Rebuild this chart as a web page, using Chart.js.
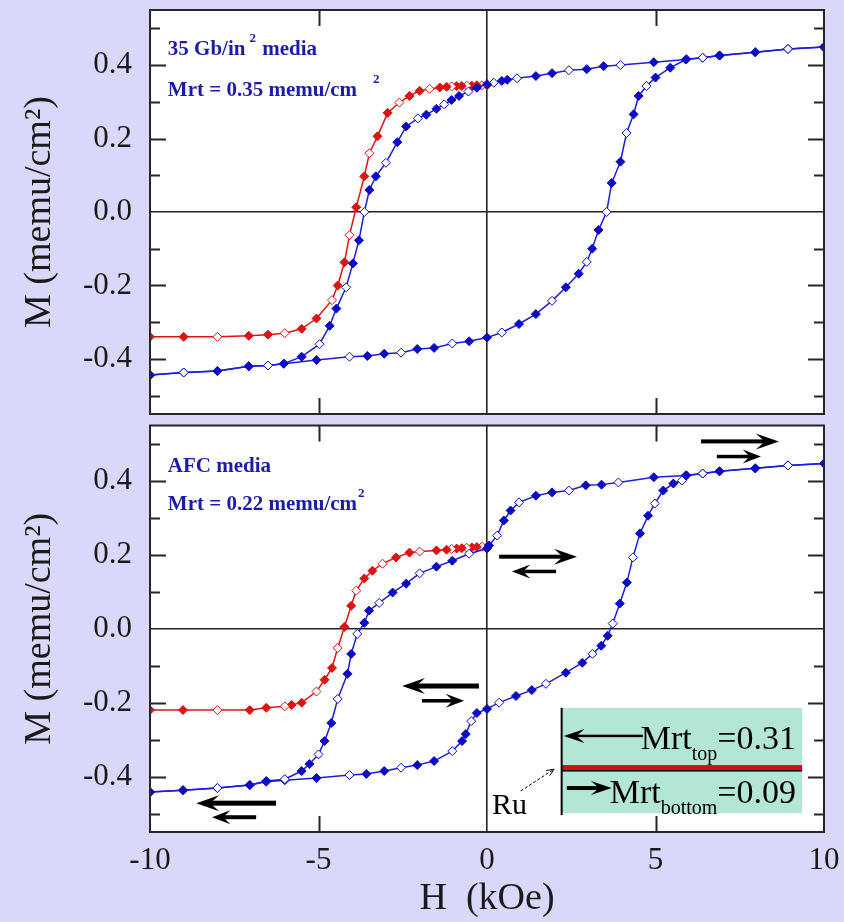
<!DOCTYPE html>
<html>
<head>
<meta charset="utf-8">
<script src="https://cdn.jsdelivr.net/npm/chart.js@4.4.1/dist/chart.umd.min.js"></script>
<style>
  html, body { margin: 0; padding: 0; background: #DAD8FA; }
  #wrap { position: relative; width: 844px; height: 922px; background: #DAD8FA; overflow: hidden; }
  .panel { position: absolute; left: 0; width: 844px; }
</style>
</head>
<body>
<div id="wrap">
  <div class="panel" style="top:0;height:420px"><canvas id="topChart"></canvas></div>
  <div class="panel" style="top:420px;height:502px"><canvas id="bottomChart"></canvas></div>
</div>
<script>
// ---- Axis ticks ----
const xTicks = [-10, -5, 0, 5, 10];
const yLabelTicks = [-0.4, -0.2, 0.0, 0.2, 0.4];
const yMinorTicks = [-0.5, -0.3, -0.1, 0.1, 0.3, 0.5];

// ---- 35 Gb/in2 media: major loop, field decreasing (H in kOe, M in memu/cm2) ----
const convDownH = [10.0, 8.93, 7.96, 6.9, 6.4, 5.9, 4.95, 3.96, 3.46, 2.96, 2.43, 1.93, 1.45, 0.89, 0.6, 0.44, 0.2, 0.0,
  -0.3, -0.55, -0.83, -1.05, -1.27, -1.5, -1.8, -2.05, -2.4, -2.66, -3.0, -3.3, -3.49, -3.64, -3.8, -3.98, -4.18,
  -4.47, -4.67, -4.97, -5.5, -6.03, -6.5, -7.07, -8.0, -9.0, -10.0];
const convDownM = [0.449, 0.444, 0.435, 0.426, 0.420, 0.415, 0.408, 0.400, 0.397, 0.389, 0.386, 0.378, 0.370, 0.364, 0.360, 0.357, 0.352, 0.348,
  0.338, 0.328, 0.316, 0.305, 0.293, 0.281, 0.265, 0.255, 0.233, 0.190, 0.134, 0.097, 0.060, 0.000, -0.077, -0.140, -0.205,
  -0.263, -0.310, -0.360, -0.394, -0.413, -0.418, -0.420, -0.433, -0.437, -0.444];
// field increasing
const convUpH = [-10.0, -9.0, -8.0, -7.07, -6.5, -6.03, -5.06, -4.08, -3.55, -3.05, -2.55, -2.07, -1.57, -1.03, -0.53, 0.0,
  0.44, 0.95, 1.45, 1.93, 2.34, 2.72, 2.96, 3.12, 3.31, 3.55, 3.7, 3.96, 4.14, 4.35, 4.5, 4.73, 5.0, 5.44, 5.92,
  6.4, 6.9, 7.96, 8.93, 10.0];
const convUpM = [-0.444, -0.437, -0.433, -0.420, -0.418, -0.413, -0.403, -0.394, -0.392, -0.386, -0.383, -0.373, -0.370, -0.358, -0.352, -0.342,
  -0.328, -0.305, -0.278, -0.242, -0.205, -0.168, -0.136, -0.100, -0.049, 0.000, 0.079, 0.137, 0.215, 0.266, 0.316, 0.343, 0.366, 0.393, 0.416,
  0.420, 0.426, 0.435, 0.444, 0.449];
// remanence curve from H = 0
const convRemH = [0.0, -0.15, -0.3, -0.45, -0.6, -0.75, -0.9, -1.05, -1.2, -1.4, -1.7, -2.0, -2.3, -2.6, -2.95, -3.25, -3.49,
  -3.64, -3.88, -4.08, -4.23, -4.43, -4.6, -5.06, -5.5, -6.0, -6.5, -7.07, -8.0, -9.0, -10.0];
const convRemM = [0.345, 0.345, 0.345, 0.344, 0.344, 0.343, 0.343, 0.342, 0.341, 0.339, 0.335, 0.330, 0.316, 0.298, 0.270, 0.206, 0.160,
  0.097, 0.013, -0.063, -0.137, -0.200, -0.240, -0.290, -0.318, -0.330, -0.334, -0.337, -0.340, -0.340, -0.340];

// ---- AFC media: major loop, field decreasing ----
const afcDownH = [10.0, 8.93, 7.96, 6.9, 6.4, 5.9, 4.95, 3.9, 3.4, 2.93, 2.43, 1.93, 1.45, 0.95, 0.7, 0.5, 0.3, 0.06, 0.0,
  -0.53, -1.03, -1.5, -2.0, -2.4, -2.8, -3.2, -3.5, -3.64, -3.85, -4.03, -4.14, -4.43, -4.62, -4.82, -5.0, -5.27,
  -5.5, -6.0, -6.55, -7.04, -8.0, -9.02, -10.0];
const afcDownM = [0.447, 0.442, 0.434, 0.426, 0.420, 0.415, 0.410, 0.396, 0.390, 0.388, 0.374, 0.369, 0.360, 0.342, 0.320, 0.293, 0.252, 0.225, 0.217,
  0.203, 0.184, 0.168, 0.150, 0.122, 0.098, 0.070, 0.049, 0.016, -0.014, -0.068, -0.122, -0.190, -0.255, -0.304, -0.340, -0.366,
  -0.385, -0.407, -0.412, -0.423, -0.431, -0.437, -0.442];
// field increasing
const afcUpH = [-10.0, -9.02, -8.0, -7.04, -6.55, -6.0, -5.06, -4.08, -3.58, -3.05, -2.55, -2.07, -1.57, -1.03, -0.74, -0.63, -0.47, -0.3, 0.0,
  0.36, 0.86, 1.33, 1.75, 2.34, 2.83, 3.13, 3.39, 3.58, 3.73, 3.94, 4.15, 4.33, 4.54, 4.78, 4.98, 5.23, 5.53, 5.79, 5.92,
  6.4, 6.9, 7.96, 8.93, 10.0];
const afcUpM = [-0.442, -0.437, -0.431, -0.423, -0.414, -0.410, -0.404, -0.396, -0.393, -0.385, -0.376, -0.369, -0.358, -0.331, -0.304, -0.285, -0.250, -0.228, -0.217,
  -0.200, -0.182, -0.166, -0.149, -0.119, -0.092, -0.068, -0.046, -0.019, 0.014, 0.068, 0.125, 0.193, 0.258, 0.306, 0.339, 0.374, 0.393, 0.401, 0.415,
  0.420, 0.426, 0.434, 0.442, 0.447];
// remanence curve from H = 0
const afcRemH = [0.0, -0.15, -0.3, -0.45, -0.6, -0.75, -0.9, -1.05, -1.2, -1.5, -2.0, -2.3, -2.7, -3.1, -3.4, -3.64, -3.88,
  -4.03, -4.23, -4.43, -4.6, -4.82, -5.06, -5.5, -5.8, -6.0, -6.55, -7.04, -8.0, -9.02, -10.0];
const afcRemM = [0.222, 0.222, 0.221, 0.220, 0.219, 0.218, 0.217, 0.216, 0.214, 0.212, 0.209, 0.206, 0.193, 0.176, 0.157, 0.136, 0.103,
  0.062, 0.005, -0.052, -0.106, -0.138, -0.170, -0.200, -0.206, -0.210, -0.214, -0.220, -0.220, -0.220, -0.220];

const BLUE = '#0c0cc4';
const BLUE_LINE = '#1d1de0';
const RED = '#dc1414';
const TEXT_BLUE = '#1c1ca8';
const SERIF = "'Liberation Serif', 'Times New Roman', serif";

const pts = (hs, ms) => hs.map((h, i) => ({ x: h, y: ms[i] }));

function loopDataset(hs, ms, color, lineColor) {
  return {
    data: pts(hs, ms),
    borderColor: lineColor,
    borderWidth: 1.5,
    pointStyle: 'rectRot',
    pointRadius: 4.5,
    pointBorderWidth: 1,
    pointBorderColor: color,
    pointBackgroundColor: ctx => (ctx.dataIndex % 3 === 1 ? '#ffffff' : color),
    tension: 0,
    fill: false
  };
}

// white plot area, frame and inward tick marks
const framePlugin = {
  id: 'frame',
  beforeDraw(chart) {
    const { ctx, chartArea: a } = chart;
    ctx.save();
    ctx.fillStyle = '#ffffff';
    ctx.fillRect(a.left, a.top, a.right - a.left, a.bottom - a.top);
    ctx.restore();
  },
  afterDatasetsDraw(chart) {
    const { ctx, chartArea: a, scales: { x, y } } = chart;
    ctx.save();
    ctx.strokeStyle = '#262626';
    ctx.lineWidth = 2;
    ctx.strokeRect(a.left, a.top, a.right - a.left, a.bottom - a.top);
    ctx.beginPath();
    const tickY = (v, len) => {
      const p = Math.round(y.getPixelForValue(v)) + 0.5;
      ctx.moveTo(a.left, p); ctx.lineTo(a.left + len, p);
      ctx.moveTo(a.right, p); ctx.lineTo(a.right - len, p);
    };
    yLabelTicks.forEach(v => { if (v !== 0) tickY(v, 16); });
    yMinorTicks.forEach(v => tickY(v, 10));
    xTicks.forEach(v => {
      if (v === x.min || v === x.max || v === 0) return;
      const p = Math.round(x.getPixelForValue(v)) + 0.5;
      ctx.moveTo(p, a.top); ctx.lineTo(p, a.top + 16);
      ctx.moveTo(p, a.bottom); ctx.lineTo(p, a.bottom - 16);
    });
    ctx.stroke();
    ctx.restore();
  }
};

// text drawn as a run of pieces: {t, font, dy, gap}
function richText(ctx, x, y, parts, color) {
  ctx.save();
  ctx.fillStyle = color;
  ctx.textBaseline = 'alphabetic';
  ctx.textAlign = 'left';
  let cx = x;
  parts.forEach(p => {
    ctx.font = p.font;
    cx += p.gap || 0;
    ctx.fillText(p.t, cx, y + (p.dy || 0));
    cx += ctx.measureText(p.t).width;
  });
  ctx.restore();
  return cx;
}
function richWidth(ctx, parts) {
  let w = 0;
  ctx.save();
  parts.forEach(p => { ctx.font = p.font; w += (p.gap || 0) + ctx.measureText(p.t).width; });
  ctx.restore();
  return w;
}

// solid arrow with a barbed head, from tail (x1,y1) to tip (x2,y2)
function arrow(ctx, x1, y1, x2, y2, lw, headLen, headHalf) {
  const ang = Math.atan2(y2 - y1, x2 - x1);
  ctx.save();
  ctx.translate(x2, y2);
  ctx.rotate(ang);
  const len = Math.hypot(x2 - x1, y2 - y1);
  ctx.fillStyle = '#000';
  ctx.fillRect(-len, -lw / 2, len - headLen * 0.6, lw);
  ctx.beginPath();
  ctx.moveTo(0, 0);
  ctx.lineTo(-headLen * 1.15, -headHalf);
  ctx.lineTo(-headLen * 0.7, 0);
  ctx.lineTo(-headLen * 1.15, headHalf);
  ctx.closePath();
  ctx.fill();
  ctx.restore();
}

const boldFont = s => `bold ${s}px ${SERIF}`;
const plainFont = s => `${s}px ${SERIF}`;

const topNotes = {
  id: 'topNotes',
  afterDraw(chart) {
    const { ctx, scales: { x, y } } = chart;
    const x0 = x.getPixelForValue(-9.47);
    richText(ctx, x0, y.getPixelForValue(0.427), [
      { t: '35 Gb/in', font: boldFont(21) },
      { t: '2', font: boldFont(13), dy: -13, gap: 4 },
      { t: ' media', font: boldFont(21), gap: 1 }
    ], TEXT_BLUE);
    richText(ctx, x0, y.getPixelForValue(0.315), [
      { t: 'Mrt = 0.35 memu/cm', font: boldFont(21) },
      { t: '2', font: boldFont(13), dy: -13, gap: 16 }
    ], TEXT_BLUE);
  }
};

const bottomNotes = {
  id: 'bottomNotes',
  afterDraw(chart) {
    const { ctx, scales: { x, y } } = chart;
    const px = v => x.getPixelForValue(v);
    const py = v => y.getPixelForValue(v);
    const x0 = px(-9.47);
    richText(ctx, x0, py(0.423), [{ t: 'AFC media', font: boldFont(21) }], TEXT_BLUE);
    richText(ctx, x0, py(0.32), [
      { t: 'Mrt = 0.22 memu/cm', font: boldFont(21) },
      { t: '2', font: boldFont(13), dy: -13, gap: 1 }
    ], TEXT_BLUE);

    // moment orientation arrows
    arrow(ctx, px(6.35), py(0.507), px(8.66), py(0.507), 4, 20, 8);
    arrow(ctx, px(6.82), py(0.466), px(8.13), py(0.466), 3.5, 16, 7);
    arrow(ctx, px(0.36), py(0.195), px(2.67), py(0.195), 4, 20, 8);
    arrow(ctx, px(2.05), py(0.155), px(0.74), py(0.155), 3.5, 16, 7);
    arrow(ctx, px(-0.24), py(-0.155), px(-2.52), py(-0.155), 5, 20, 8);
    arrow(ctx, px(-1.93), py(-0.195), px(-0.68), py(-0.195), 3.5, 16, 7);
    arrow(ctx, px(-6.26), py(-0.472), px(-8.63), py(-0.472), 5, 20, 8);
    arrow(ctx, px(-6.85), py(-0.51), px(-8.16), py(-0.51), 4, 16, 7);

    // layer stack box
    const bl = px(2.23), br = px(9.35), bt = py(-0.214), bb = py(-0.499);
    const redY = py(-0.377);
    ctx.save();
    ctx.fillStyle = '#b4e6d6';
    ctx.fillRect(bl, bt, br - bl, bb - bt);
    ctx.fillStyle = '#d01010';
    ctx.fillRect(bl, redY - 3, br - bl, 5);
    ctx.fillStyle = '#000';
    ctx.fillRect(bl, redY + 2, br - bl, 1.5);
    ctx.fillRect(bl - 1.5, bt, 2, bb - bt + 2);
    ctx.restore();

    const right = px(9.17);
    const topParts = [
      { t: 'Mrt', font: plainFont(34) },
      { t: 'top', font: plainFont(20), dy: 11 },
      { t: '=0.31', font: plainFont(34) }
    ];
    const botParts = [
      { t: 'Mrt', font: plainFont(34) },
      { t: 'bottom', font: plainFont(20), dy: 11 },
      { t: '=0.09', font: plainFont(34) }
    ];
    const tw = richWidth(ctx, topParts);
    richText(ctx, right - tw, py(-0.325), topParts, '#000');
    const bw = richWidth(ctx, botParts);
    richText(ctx, right - bw, py(-0.472), botParts, '#000');
    arrow(ctx, right - tw + 2, py(-0.29), px(2.28), py(-0.29), 2.5, 18, 7);
    arrow(ctx, px(2.37), py(-0.431), right - bw + 2, py(-0.431), 4, 18, 7);

    // spacer layer label
    richText(ctx, px(0.15), py(-0.502), [{ t: 'Ru', font: plainFont(30) }], '#000');
    ctx.save();
    ctx.strokeStyle = '#000';
    ctx.lineWidth = 1;
    ctx.setLineDash([3, 2]);
    const ax1 = px(1.0), ay1 = py(-0.439), ax2 = px(1.99), ay2 = py(-0.38);
    ctx.beginPath(); ctx.moveTo(ax1, ay1); ctx.lineTo(ax2, ay2); ctx.stroke();
    ctx.setLineDash([]);
    const a = Math.atan2(ay2 - ay1, ax2 - ax1);
    ctx.beginPath();
    ctx.moveTo(ax2, ay2);
    ctx.lineTo(ax2 - 8 * Math.cos(a - 0.4), ay2 - 8 * Math.sin(a - 0.4));
    ctx.moveTo(ax2, ay2);
    ctx.lineTo(ax2 - 8 * Math.cos(a + 0.4), ay2 - 8 * Math.sin(a + 0.4));
    ctx.stroke();
    ctx.restore();
  }
};

const zeroGrid = {
  color: c => (c.tick && c.tick.value === 0 ? '#222222' : 'rgba(0,0,0,0)'),
  lineWidth: 1.6,
  drawTicks: false
};

function makeOptions(isBottom) {
  return {
    responsive: true,
    maintainAspectRatio: false,
    animation: false,
    events: [],
    layout: { padding: { left: 0, right: 20, top: isBottom ? 5 : 10, bottom: 0 } },
    plugins: { legend: { display: false }, tooltip: { enabled: false } },
    scales: {
      x: {
        type: 'linear',
        min: -10, max: 10,
        afterBuildTicks: s => { s.ticks = xTicks.map(v => ({ value: v })); },
        afterFit: s => {
          s.height = isBottom ? 90 : 6;
          s.paddingLeft = 0; s.paddingRight = 0; s.paddingTop = 0; s.paddingBottom = 0;
        },
        grid: zeroGrid,
        border: { display: false },
        ticks: {
          display: isBottom,
          color: '#1a1a1a',
          padding: 10,
          maxRotation: 0,
          font: { family: SERIF, size: 31 },
          callback: v => String(v)
        },
        title: {
          display: isBottom,
          text: 'H  (kOe)',
          color: '#1a1a1a',
          font: { family: SERIF, size: 38 },
          padding: { top: 0, bottom: 0 }
        }
      },
      y: {
        type: 'linear',
        min: -0.55, max: 0.55,
        afterBuildTicks: s => { s.ticks = yLabelTicks.map(v => ({ value: v })); },
        afterFit: s => {
          s.width = 150;
          s.paddingLeft = 0; s.paddingRight = 0; s.paddingTop = 0; s.paddingBottom = 0;
        },
        grid: zeroGrid,
        border: { display: false },
        ticks: {
          color: '#1a1a1a',
          padding: 18,
          font: { family: SERIF, size: 31 },
          callback: v => v.toFixed(1)
        },
        title: {
          display: true,
          text: 'M (memu/cm²)',
          color: '#1a1a1a',
          font: { family: SERIF, size: 38 },
          padding: { top: 17, bottom: 0 }
        }
      }
    }
  };
}

new Chart(document.getElementById('topChart'), {
  type: 'line',
  data: {
    datasets: [
      loopDataset(convDownH, convDownM, BLUE, BLUE_LINE),
      loopDataset(convUpH, convUpM, BLUE, BLUE_LINE),
      loopDataset(convRemH, convRemM, RED, RED)
    ]
  },
  options: makeOptions(false),
  plugins: [framePlugin, topNotes]
});

new Chart(document.getElementById('bottomChart'), {
  type: 'line',
  data: {
    datasets: [
      loopDataset(afcDownH, afcDownM, BLUE, BLUE_LINE),
      loopDataset(afcUpH, afcUpM, BLUE, BLUE_LINE),
      loopDataset(afcRemH, afcRemM, RED, RED)
    ]
  },
  options: makeOptions(true),
  plugins: [framePlugin, bottomNotes]
});
</script>
</body>
</html>
